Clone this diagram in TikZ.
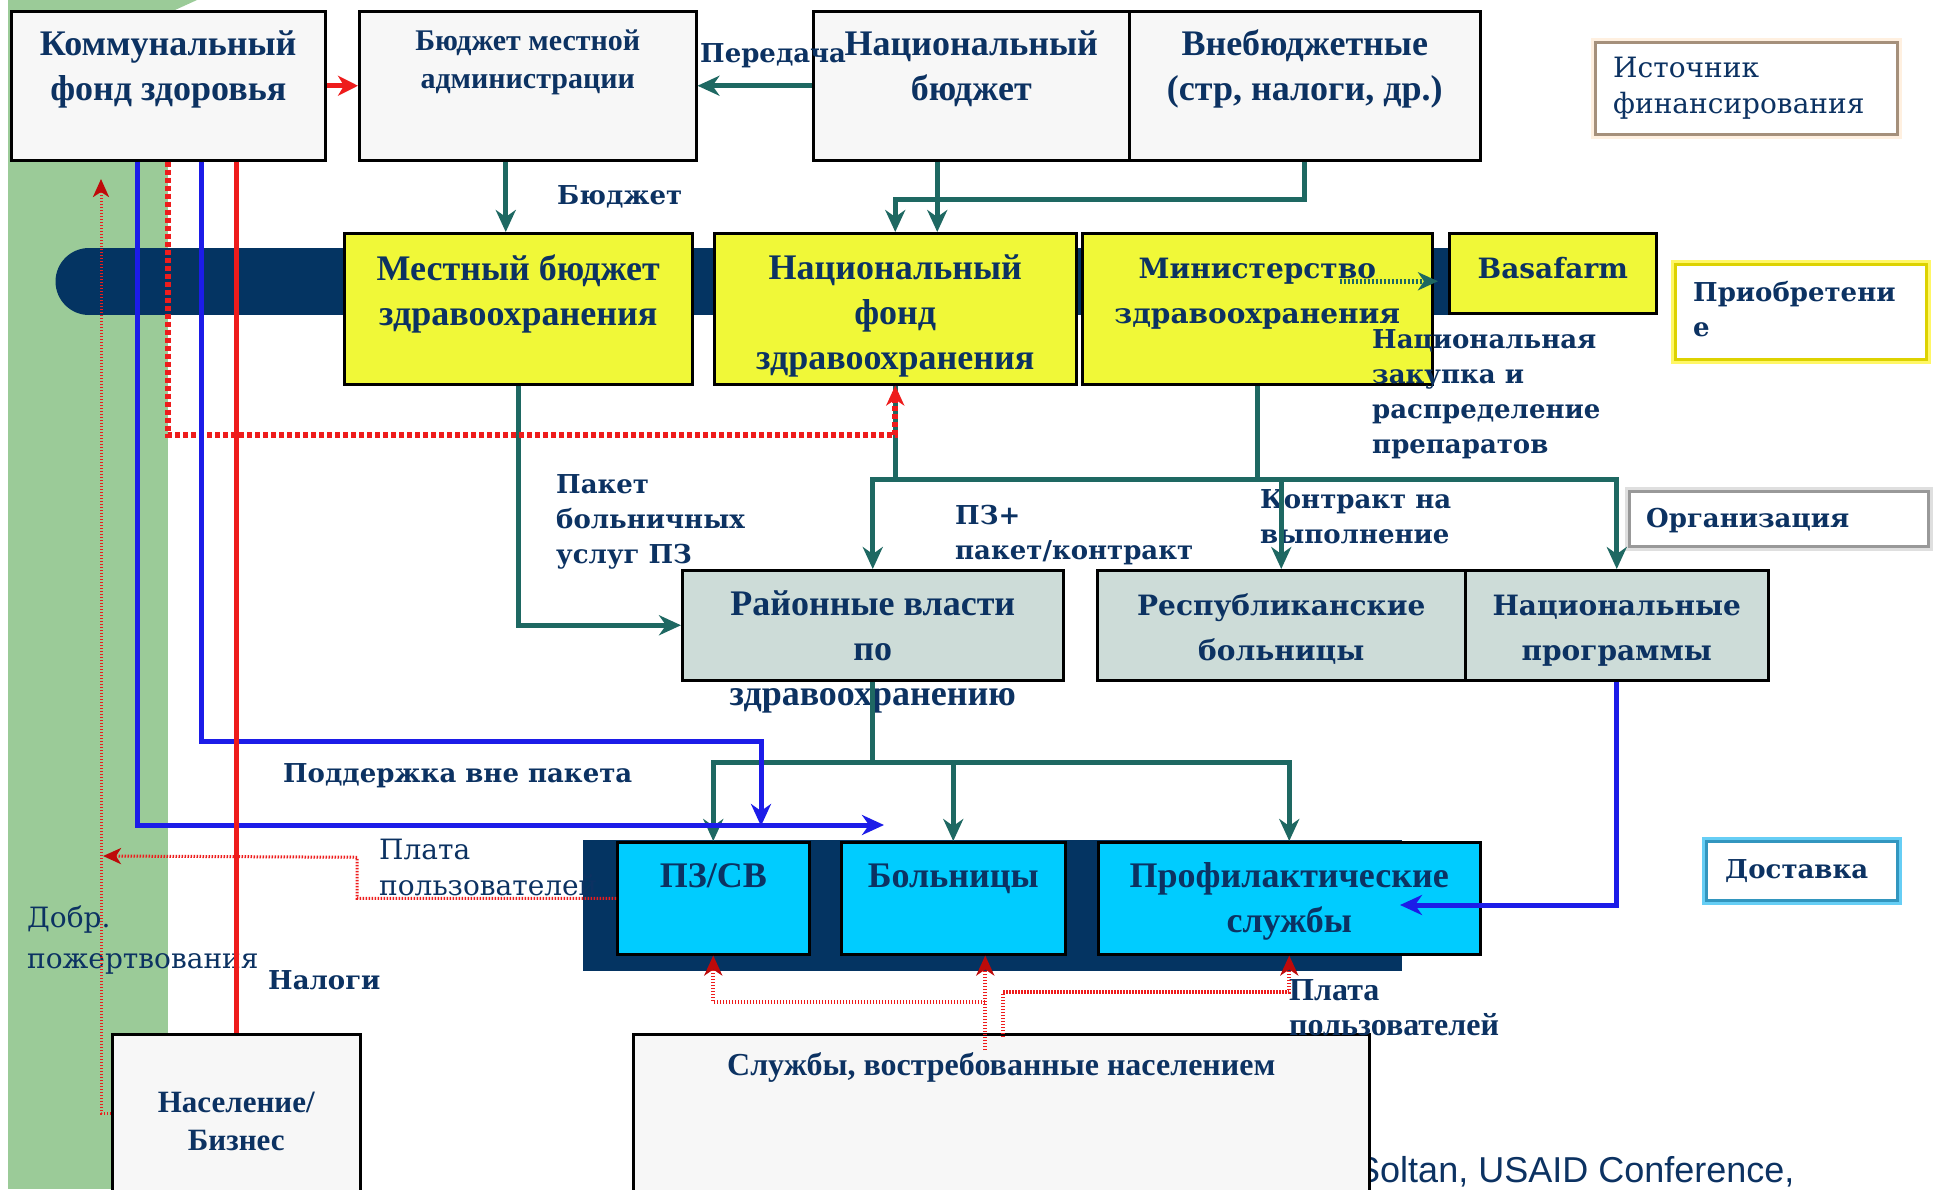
\documentclass[tikz,border=0pt]{standalone}
\usepackage{fontspec}
\setmainfont{Liberation Serif}
\newfontfamily\dvserif{DejaVu Serif}
\newfontfamily\lsans{Liberation Sans}
\usepackage{tikz}
\usetikzlibrary{arrows.meta,calc}

\definecolor{txtnavy}{RGB}{12,50,98}
\definecolor{barnavy}{RGB}{4,52,98}
\definecolor{bggreen}{RGB}{155,203,152}
\definecolor{boxgray}{RGB}{247,247,247}
\definecolor{boxyellow}{RGB}{240,248,56}
\definecolor{boxsage}{RGB}{205,220,216}
\definecolor{boxcyan}{RGB}{0,204,255}
\definecolor{flowteal}{RGB}{30,104,98}
\definecolor{flowblue}{RGB}{28,28,232}
\definecolor{flowred}{RGB}{238,28,28}
\definecolor{tipred}{RGB}{190,10,10}

\newcommand{\boxfont}{\bfseries\fontsize{36}{45}\selectfont}
\newcommand{\smallboxfont}{\bfseries\fontsize{30}{38}\selectfont}
\newcommand{\wideboxfont}{\dvserif\bfseries\fontsize{28}{45}\selectfont}
\newcommand{\notefont}{\dvserif\bfseries\fontsize{26}{35}\selectfont}
\newcommand{\lightnotefont}{\dvserif\fontsize{28}{36}\selectfont}

\tikzset{
	boxframe/.style={draw=black, line width=2.5pt, inner sep=0pt, anchor=north west},
	graybox/.style={boxframe, fill=boxgray},
	yellowbox/.style={boxframe, fill=boxyellow},
	sagebox/.style={boxframe, fill=boxsage},
	cyanbox/.style={boxframe, fill=boxcyan},
	intext/.style={anchor=base, align=center, inner sep=0pt, text=txtnavy, font=\boxfont},
	keybox/.style n args={2}{preaction={draw=#2, line width=9pt}, draw=#1, line width=3pt, fill=white, inner sep=0pt, anchor=north west},
	keytext/.style={anchor=base west, align=left, inner sep=0pt, text=txtnavy, font=\notefont},
	note/.style={anchor=base west, align=left, inner sep=0pt, text=txtnavy, font=\notefont},
	tealline/.style={draw=flowteal, line width=5pt},
	tealarr/.style={tealline, -{Stealth[length=22pt, width=20pt, inset=7pt]}},
	tealdot/.style={tealline, dash pattern=on 2pt off 2pt, -{Stealth[length=20pt, width=18pt, inset=6pt]}},
	bluearr/.style={draw=flowblue, line width=5pt, -{Stealth[length=22pt, width=20pt, inset=7pt]}},
	redline/.style={draw=flowred, line width=5pt},
	redarr/.style={redline, -{Stealth[length=20pt, width=20pt, inset=6pt]}},
	redwave/.style={redline, line width=6pt, dash pattern=on 5pt off 3pt, -{Stealth[length=20pt, width=18pt, inset=6pt]}},
	redfee/.style={draw=flowred, line width=4pt, dash pattern=on 1.5pt off 1.5pt, -{Stealth[length=20pt, width=18pt, inset=6pt, color=tipred]}},
	redthin/.style={draw=flowred, line width=3pt, dash pattern=on 1.5pt off 1.5pt, -{Stealth[length=18pt, width=16pt, inset=5pt, color=tipred]}}
}

\begin{document}
\begin{tikzpicture}[x=1pt, y=-1pt]
		%%%%% START %%%%%
		
		\fill[white] (0,0) rectangle (1937,1189);
		\useasboundingbox (0,0) rectangle (1937,1189);
		
		% background strips
		\fill[bggreen] (8,0) rectangle (168,1189);
		\fill[bggreen] (8,0) -- (197,0) -- (175,10) -- (8,10) -- cycle;
		\fill[barnavy] (89,248) rectangle (1607,315);
		\fill[barnavy] (89,281.5) circle[radius=33.5pt];
		\fill[barnavy] (583,840) rectangle (1402,971);
		
		\node[anchor=base west, inner sep=0pt, text=txtnavy, font=\lsans\fontsize{36}{40}\selectfont] (soltan) at (1356,1182) {Soltan, USAID Conference,};
		
		% sources
		\node[graybox, minimum width=314pt, minimum height=149pt, label={[intext, yshift=-90pt]north:{Коммунальный\\фонд здоровья}}] (kfz) at (10,10) {};
		\node[graybox, minimum width=337pt, minimum height=149pt, label={[intext, font=\smallboxfont, yshift=-78pt]north:{Бюджет местной\\администрации}}] (bma) at (358,10) {};
		\node[graybox, minimum width=316pt, minimum height=149pt, label={[intext, yshift=-90pt]north:{Национальный\\бюджет}}] (nb) at (812,10) {};
		\node[graybox, minimum width=351pt, minimum height=149pt, label={[intext, yshift=-90pt]north:{Внебюджетные\\(стр, налоги, др.)}}] (vb) at (1128,10) {};
		\node[keybox={black!45!brown!60}{orange!12}, minimum width=302pt, minimum height=92pt, label={[keytext, font=\lightnotefont, xshift=19pt, yshift=-72pt]north west:{Источник\\финансирования}}] (srckey) at (1594,41) {};
		
		% purchasing
		\node[yellowbox, minimum width=348pt, minimum height=151pt, label={[intext, yshift=-93pt]north:{Местный бюджет\\здравоохранения}}] (mbz) at (343,232) {};
		\node[yellowbox, minimum width=362pt, minimum height=151pt, label={[intext, yshift=-137pt]north:{Национальный\\фонд\\здравоохранения}}] (nfz) at (713,232) {};
		\node[yellowbox, minimum width=350pt, minimum height=151pt, label={[intext, font=\wideboxfont, yshift=-91pt]north:{Министерство\\здравоохранения}}] (mz) at (1081,232) {};
		\node[yellowbox, minimum width=207pt, minimum height=80pt, label={[intext, font=\wideboxfont, yshift=-46pt]north:{Basafarm}}] (bas) at (1448,232) {};
		\node[keybox={yellow!70!olive}{yellow!60}, minimum width=251pt, minimum height=95pt, label={[keytext, xshift=19pt, yshift=-73pt]north west:{Приобретени\\е}}] (acqkey) at (1674,263) {};
		
		% organisation
		\node[sagebox, minimum width=381pt, minimum height=110pt, label={[intext, yshift=-136pt]north:{Районные власти\\по\\здравоохранению}}] (rv) at (681,569) {};
		\node[sagebox, minimum width=368pt, minimum height=110pt, label={[intext, font=\wideboxfont, yshift=-91pt]north:{Республиканские\\больницы}}] (rb) at (1096,569) {};
		\node[sagebox, minimum width=303pt, minimum height=110pt, label={[intext, font=\wideboxfont, yshift=-91pt]north:{Национальные\\программы}}] (np) at (1464,569) {};
		\node[keybox={gray!80}{gray!25}, minimum width=299pt, minimum height=55pt, label={[keytext, xshift=18pt, yshift=-37pt]north west:{Организация}}] (orgkey) at (1628,490) {};
		
		\node[note, font=\lightnotefont] (platal) at (379,895) {Плата\\пользователей};
		
		% delivery
		\node[cyanbox, minimum width=192pt, minimum height=112pt, label={[intext, yshift=-46pt]north:{ПЗ/СВ}}] (pz) at (616,841) {};
		\node[cyanbox, minimum width=224pt, minimum height=112pt, label={[intext, yshift=-46pt]north:{Больницы}}] (bol) at (840,841) {};
		\node[cyanbox, minimum width=382pt, minimum height=112pt, label={[intext, yshift=-91pt]north:{Профилактические\\службы}}] (prof) at (1097,841) {};
		\node[keybox={cyan!50!teal}{cyan!60}, minimum width=191pt, minimum height=59pt, label={[keytext, xshift=20pt, yshift=-38pt]north west:{Доставка}}] (dostkey) at (1705,840) {};
		
		% population
		\node[graybox, minimum width=248pt, minimum height=170pt, label={[intext, font=\bfseries\fontsize{31}{38}\selectfont, yshift=-117pt]north:{Население/\\Бизнес}}] (nas) at (111,1033) {};
		\node[graybox, minimum width=736pt, minimum height=170pt, label={[intext, font=\bfseries\fontsize{32}{38}\selectfont, yshift=-42pt]north:{Службы, востребованные населением}}] (sl) at (632,1033) {};
		
		% flow labels
		\node[note] (peredacha) at (700,62) {Передача};
		\node[note] (budzhet) at (557,204) {Бюджет};
		\node[note] (zakupka) at (1372,453) {Национальная\\закупка и\\распределение\\препаратов};
		\node[note] (paket) at (556,563) {Пакет\\больничных\\услуг ПЗ};
		\node[note] (pzplus) at (955,559) {ПЗ+\\пакет/контракт};
		\node[note] (kontrakt) at (1260,543) {Контракт на\\выполнение};
		\node[note] (podderzhka) at (283,782) {Поддержка вне пакета};
		\node[note, font=\dvserif\fontsize{28}{41}\selectfont] (dobr) at (27,968) {Добр.\\пожертвования};
		\node[note] (nalogi) at (268,989) {Налоги};
		\node[note, font=\bfseries\fontsize{32}{35}\selectfont] (platar) at (1289,1035) {Плата\\пользователей};
		
		\coordinate (donor) at (101,179);
		\coordinate (fees) at (103,856);
		\coordinate (bluetip) at (884,825);
		\coordinate (supp) at (761,826);
		\coordinate (progtip) at (1400,905);
		
		% money flows
		\draw[redarr] (kfz.east) -- (bma.west);
		\draw[tealarr] (nb.west) -- (bma.east);
		\draw[tealarr] ([xshift=-22pt]bma.south) -- ([xshift=-22pt]bma.south |- mbz.north);
		\draw[tealarr] ([xshift=-34pt]nb.south) -- ([xshift=-34pt]nb.south |- nfz.north);
		\draw[tealarr] (vb.south) -- ++(0,38) -| (nfz.north);
		\draw[tealdot] ([xshift=-94pt, yshift=27.5pt]mz.east) -- ([xshift=-10pt, yshift=-8pt]bas.west);
		
		\draw[tealarr] (mbz.south) |- (rv.west);
		\draw[tealline] (nfz.south) -- ++(0,94) coordinate (obus);
		\draw[tealarr] (obus) -| (rv.north);
		\draw[tealarr] (obus) -| (np.north);
		\draw[tealline] (mz.south) -- (mz.south |- obus);
		\draw[tealarr] (obus -| rb.north) -- (rb.north);
		
		\draw[tealline] (rv.south) -- ++(0,81) coordinate (dbus);
		\draw[tealarr] (dbus) -| (pz.north);
		\draw[tealarr] (dbus) -| (prof.north);
		\draw[tealarr] (dbus -| bol.north) -- (bol.north);
		
		\draw[redwave] (kfz.south) -- ++(0,273) -| (nfz.south);
		\draw[bluearr] ([xshift=-31pt]kfz.south) |- (bluetip);
		\draw[bluearr] ([xshift=33pt]kfz.south) -- ++(0,580) -| (supp);
		\draw[bluearr] (np.south) |- (progtip);
		\draw[redline] (kfz.south -| nas.north) -- (nas.north);
		
		\draw[redthin] ([yshift=-80pt]nas.north west) -| (donor);
		\draw[redthin] (pz.west) -- ++(-259,0) -- ++(0,-41) -- (fees);
		
		\draw[redfee] ([xshift=-16pt, yshift=-17pt]sl.north) -- ([xshift=32pt]bol.south);
		\draw[redfee] ([xshift=-16pt, yshift=31pt]sl.north) -| (pz.south);
		\draw[redfee] ([xshift=2pt, yshift=-4pt]sl.north) -- ++(0,-45) -| (prof.south);
		
		%%%%% END %%%%%
\end{tikzpicture}
\end{document}
